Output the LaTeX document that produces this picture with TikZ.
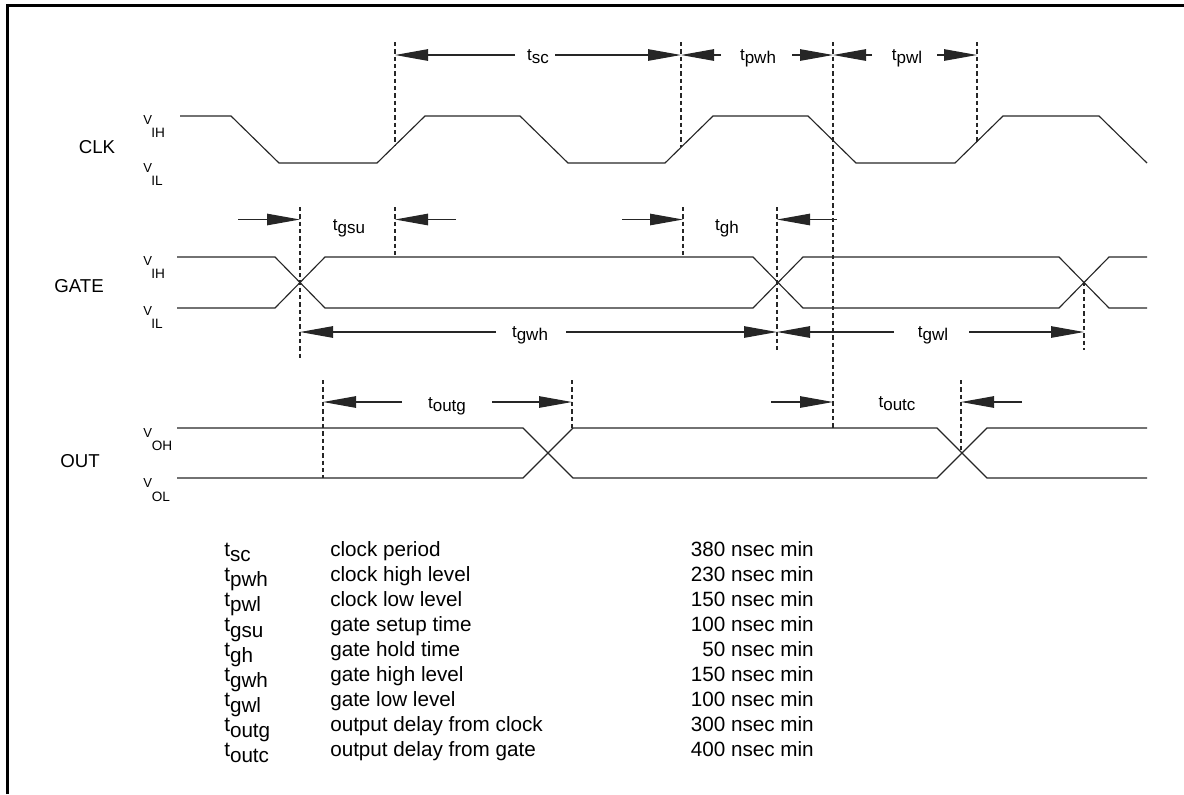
\documentclass[tikz,border=0pt]{standalone}
\usepackage{fontspec}
\setmainfont{Liberation Sans}
\usetikzlibrary{arrows.meta}
\newcommand{\tlab}[1]{t\raisebox{-2.6pt}{#1}}
\newcommand{\ttab}[1]{t\raisebox{-4.3pt}{#1}}
\begin{document}
\begin{tikzpicture}[x=0.75pt,y=-0.75pt,
  wave/.style={line width=0.85pt, black!85, line join=miter},
  dimline/.style={line width=0.9pt, black!85, -{Triangle[length=24.75pt,width=8.6pt]}},
  guide/.style={line width=0.8pt, black!85, dash pattern=on 3.2pt off 2.3pt},
  sig/.style={font=\fontsize{14}{16}\selectfont, anchor=center, inner sep=0},
  vlab/.style={font=\fontsize{9.8}{10}\selectfont, anchor=base west, inner sep=0},
  vsub/.style={font=\fontsize{10.2}{11}\selectfont, anchor=base west, inner sep=0},
  tl/.style={font=\fontsize{12.75}{14}\selectfont, anchor=base, inner sep=0},
  tab/.style={font=\fontsize{15.5}{18}\selectfont, anchor=base west, inner sep=0},
  num/.style={font=\fontsize{15.5}{18}\selectfont, anchor=base east, inner sep=0}]

\useasboundingbox (0,0) rectangle (1184,794);

% frame
\draw[line width=2pt] (7.3,794) -- (7.3,5.3) -- (1184,5.3);

% ---------- signal names ----------
\node[sig] (clk)  at (97,147)  {CLK};
\node[sig] (gate) at (79,286)  {GATE};
\node[sig] (out)  at (80,461)  {OUT};

% level labels
\node[vlab] (v1)  at (143,124.5) {V};  \node[vsub] (v1s) at (151,137)   {IH};
\node[vlab] (v2)  at (143,172)   {V};  \node[vsub] (v2s) at (151,185)   {IL};
\node[vlab] (v3)  at (143,265.5) {V};  \node[vsub] (v3s) at (151,278)   {IH};
\node[vlab] (v4)  at (143,315.5) {V};  \node[vsub] (v4s) at (151,328.5) {IL};
\node[vlab] (v5)  at (143,437)   {V};  \node[vsub] (v5s) at (151.5,450) {OH};
\node[vlab] (v6)  at (143,487)   {V};  \node[vsub] (v6s) at (151.5,501) {OL};

% ---------- CLK waveform ----------
\draw[wave] (180,116) -- (231,116) -- (279,163) -- (377,163) -- (425,116)
  -- (520,116) -- (568,163) -- (665,163) -- (713,116) -- (808,116)
  -- (856,163) -- (955,163) -- (1003,116) -- (1099,116) -- (1147,163);

% ---------- GATE waveform ----------
\draw[wave] (177,257) -- (275,257) -- (325,308) -- (753,308) -- (803,257)
  -- (1059,257) -- (1109,308) -- (1147,308);
\draw[wave] (177,308) -- (275,308) -- (325,257) -- (753,257) -- (803,308)
  -- (1059,308) -- (1109,257) -- (1147,257);

% ---------- OUT waveform ----------
\draw[wave] (177,428) -- (523,428) -- (573,478) -- (937,478) -- (987,428) -- (1147,428);
\draw[wave] (177,478) -- (523,478) -- (573,428) -- (937,428) -- (987,478) -- (1147,478);

% ---------- guide lines ----------
\draw[guide] (395,42) -- (395,145.4);
\draw[guide] (681,42) -- (681,147.3);
\draw[guide] (833,42) -- (833,428);
\draw[guide] (977,42) -- (977,141.5);
\draw[guide] (300,207) -- (300,360);
\draw[guide] (395,207) -- (395,257);
\draw[guide] (683,207) -- (683,257);
\draw[guide] (777,207) -- (777,350);
\draw[guide] (1084,282) -- (1084,350);
\draw[guide] (323,380) -- (323,478);
\draw[guide] (572,380) -- (572,428);
\draw[guide] (961,380) -- (961,453);

% ---------- top dimensions ----------
\node[tl] (tsc)  at (538,60) {\tlab{sc}};
\node[tl] (tpwh) at (758,60) {\tlab{pwh}};
\node[tl] (tpwl) at (907,60) {\tlab{pwl}};
\draw[dimline] (515,55) -- (395,55);
\draw[dimline] (555,55) -- (681,55);
\draw[dimline] (721,55) -- (681,55);
\draw[dimline] (792,55) -- (833,55);
\draw[dimline] (872,55) -- (833,55);
\draw[dimline] (937,55) -- (977,55);

% ---------- gate dimensions ----------
\node[tl] (tgsu) at (349,230.5) {\tlab{gsu}};
\node[tl] (tgh)  at (727,230.5) {\tlab{gh}};
\draw[dimline] (238,219.5) -- (300,219.5);
\draw[dimline] (456,219.5) -- (395,219.5);
\draw[dimline] (622,219.5) -- (683,219.5);
\draw[dimline] (837,219.5) -- (777,219.5);

\node[tl] (tgwh) at (530,337) {\tlab{gwh}};
\node[tl] (tgwl) at (933,337) {\tlab{gwl}};
\draw[dimline] (496,332) -- (300,332);
\draw[dimline] (566,332) -- (777,332);
\draw[dimline] (894,332) -- (777,332);
\draw[dimline] (969,332) -- (1084,332);

% ---------- out dimensions ----------
\node[tl] (toutg) at (447,408) {\tlab{outg}};
\node[tl] (toutc) at (897,407) {\tlab{outc}};
\draw[dimline] (402,402) -- (323,402);
\draw[dimline] (492,402) -- (572,402);
\draw[dimline] (771,402) -- (833,402);
\draw[dimline] (1022,402) -- (961,402);

% ---------- table ----------
\foreach \s/\d/\n [count=\i from 0] in {sc/clock period/380, pwh/clock high level/230,
    pwl/clock low level/150, gsu/gate setup time/100, gh/gate hold time/50,
    gwh/gate high level/150, gwl/gate low level/100, outg/output delay from clock/300,
    outc/output delay from gate/400}{
  \node[tab] (tt\i) at (224,556+25.1*\i) {\ttab{\s}};
  \node[tab] (td\i) at (330,556+25.1*\i) {\d};
  \node[num] (tn\i) at (814,556+25.1*\i) {\n{} nsec min};
}
\end{tikzpicture}
\end{document}
